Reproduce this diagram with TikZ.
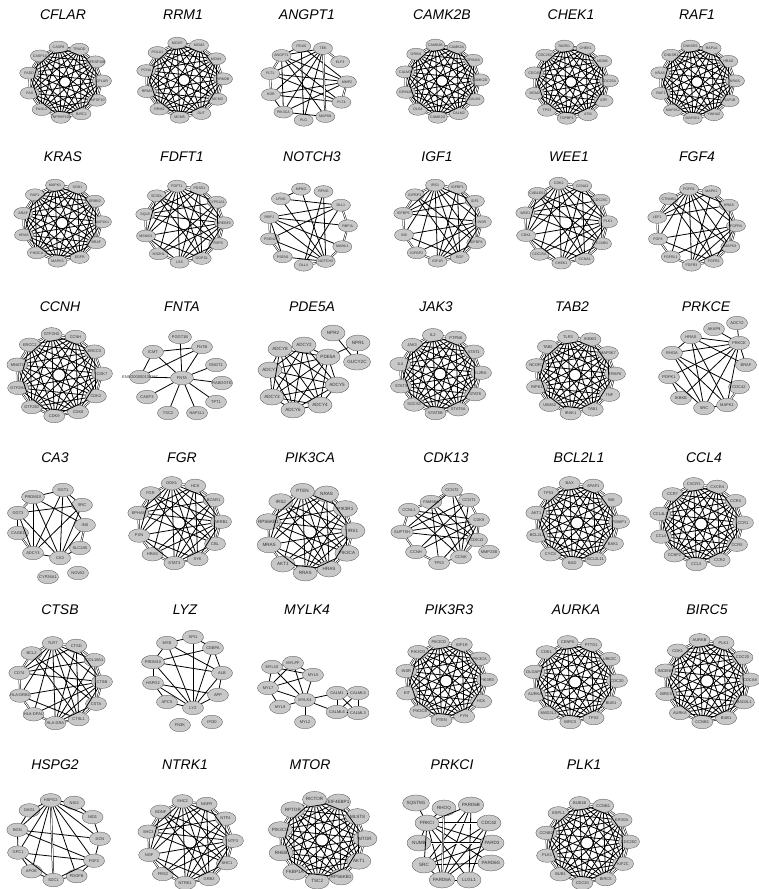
\documentclass[tikz,border=0pt]{standalone}
\usepackage{fontspec}
\setmainfont{Liberation Sans}
\usetikzlibrary{shapes.geometric}
\definecolor{grigio}{RGB}{200,200,200}

% rete circolare: #1 prefisso, #2 cx, #3 cy, #4 raggio, #5 densita (0-10), #6 stile nodi, #7 geni
\newcommand{\rete}[7]{%
  \foreach \g [count=\k] in {#7} {\xdef\nn{\k}}
  \foreach \g [count=\k] in {#7} {
    \pgfmathsetmacro\ang{-100+(\k-1)*360/\nn}
    \node[gene,#6] (#1\k) at ({#2+#4*cos(\ang)},{#3+0.96*#4*sin(\ang)}) {\makebox[0pt]{\g}};
  }
  \ifnum#5>0
  \foreach \i in {1,...,\nn} {
    \foreach \j in {\i,...,\nn} {
      \pgfmathtruncatemacro\tieni{mod(7*\i*\j+\i+3*\j,10)<#5 ? 1 : 0}
      \pgfmathtruncatemacro\vicino{((\j-\i)==1 || (\i==1 && \j==\nn)) ? 1 : 0}
      \ifnum\j>\i
        \ifnum\vicino=1
          \draw[doppio] (#1\i) -- (#1\j);
        \else\ifnum\tieni=1
          \draw[legame] (#1\i) -- (#1\j);
        \fi\fi
      \fi
    }
  }
  \fi
}

\begin{document}
\begin{tikzpicture}[
    x=1pt, y=-1pt,
    gene/.style={ellipse, draw=black!70, line width=0.3pt, fill=grigio, inner sep=0pt,
                 minimum width=19pt, minimum height=12pt, text=black!80,
                 font=\fontsize{3.6}{4}\selectfont},
    medio/.style={minimum width=21pt, minimum height=13.5pt, font=\fontsize{4}{4.5}\selectfont},
    grande/.style={minimum width=24pt, minimum height=16pt, font=\fontsize{4.6}{5}\selectfont},
    legame/.style={line width=0.8pt},
    doppio/.style={double, double distance=0.9pt, line width=0.5pt},
    titolo/.style={inner sep=0pt, font=\fontsize{14}{16}\selectfont\itshape}
]

    % 0. Cornice
    \fill[white] (0,0) rectangle (759,889);
    \useasboundingbox (0,0) rectangle (759,889);

    % 1. Titoli
    \node[titolo] (tcf) at (63,15)  {CFLAR};
    \node[titolo] (trr) at (183,15) {RRM1};
    \node[titolo] (tan) at (307,15) {ANGPT1};
    \node[titolo] (tca) at (442,15) {CAMK2B};
    \node[titolo] (tch) at (571,15) {CHEK1};
    \node[titolo] (trf) at (697,15) {RAF1};

    \node[titolo] (tkr) at (63,157)  {KRAS};
    \node[titolo] (tfd) at (182,157) {FDFT1};
    \node[titolo] (tno) at (312,157) {NOTCH3};
    \node[titolo] (tig) at (437,157) {IGF1};
    \node[titolo] (twe) at (569,157) {WEE1};
    \node[titolo] (tfg) at (697,157) {FGF4};

    \node[titolo] (tcn) at (60,307)  {CCNH};
    \node[titolo] (tfn) at (182,307) {FNTA};
    \node[titolo] (tpd) at (312,307) {PDE5A};
    \node[titolo] (tjk) at (436,307) {JAK3};
    \node[titolo] (ttb) at (572,307) {TAB2};
    \node[titolo] (tpe) at (706,307) {PRKCE};

    \node[titolo] (tc3) at (55,458)  {CA3};
    \node[titolo] (tfr) at (182,458) {FGR};
    \node[titolo] (tpk) at (310,458) {PIK3CA};
    \node[titolo] (tck) at (446,458) {CDK13};
    \node[titolo] (tbc) at (579,458) {BCL2L1};
    \node[titolo] (tcc) at (704,458) {CCL4};

    \node[titolo] (tct) at (60,610)  {CTSB};
    \node[titolo] (tly) at (185,610) {LYZ};
    \node[titolo] (tmy) at (307,610) {MYLK4};
    \node[titolo] (tp3) at (449,610) {PIK3R3};
    \node[titolo] (tau) at (576,610) {AURKA};
    \node[titolo] (tbi) at (707,610) {BIRC5};

    \node[titolo] (ths) at (55,765)  {HSPG2};
    \node[titolo] (tnt) at (185,765) {NTRK1};
    \node[titolo] (tmt) at (310,765) {MTOR};
    \node[titolo] (tpi) at (452,765) {PRKCI};
    \node[titolo] (tpl) at (584,765) {PLK1};

    % 2. Reti circolari
    \rete{cf}{65}{82}{37}{10}{}{CASP8,TRADD,TNFRSF10B,CFLAR,TNFSF10,BIRC2,TNFRSF10A,FASLG,FAS,FADD,CASP10}
    \rete{rr}{184}{80}{39}{10}{}{MCM7,MCM2,MCM4,RRM2B,MCM3,DUT,MCM5,RRM2,RRM1,PCNA,POLA1}
    \rete{an}{308}{83}{39}{0}{}{ITGA5,TEK,ELF3,MMP2,FLT4,MAPK8,PLG,PIK3CA,KDR,FLT1,ANGPT1}
    \rete{ca}{442}{81}{38}{10}{}{CAMK2B,CAMK2A,GRIN2A,CAMK2D,CALM1,CALM2,CAMK2G,DLG4,GRIN2B,CALM3,GRIN1}
    \rete{ch}{571}{82}{38}{10}{}{RAD51,CHEK1,MCM6,CDC25A,ATR,ATM,TOPBP1,TP53,MCM2,CDC45,CDC25C}
    \rete{rf}{697}{82}{38}{10}{}{CNKSR2,RAP1A,HRAS,NRAS,RAP1B,YWHAZ,MAP2K1,MAP2K2,RAF1,KRAS,CNKSR1}

    \rete{kr}{62}{223}{40}{10}{}{MAPK1,SOS1,ERBB2,MAP2K1,BRAF,EGFR,MAPK3,PIK3CA,KRAS,ARAF,RAF1}
    \rete{fd}{184}{224}{40}{6}{}{FDFT1,PDSS1,CYP51A1,SREBF2,FDPS,GGPS1,LSS,NSDHL,MSMO1,SQLE,SC5DL}
    \rete{no}{308}{227}{40}{0}{}{MFNG,RFNG,DLL1,RBPJL,MAML1,NOTCH3,DLL4,PSEN1,PSEN2,RBPJ,LFNG}
    \rete{ig}{442}{223}{40}{5}{}{IRS1,IGFBP1,IGF1,INSR,IGFBP4,EGF,IGF1R,IGFBP2,INS,IGFBP5,IGFBP3}
    \rete{we}{566}{223}{42}{6}{}{CDK2,CCNA2,CDC25C,PLK1,CCNB1,CCNA1,CHEK1,CDC25A,CDK1,WEE1,CABLES1}
    \rete{fg}{696}{227}{40}{4}{}{FGFR1,MAPK1,HRAS,FGFR4,MAPK3,FGFR2,FGFR3,FGFRL1,FGF4,LEF1,CTNNB1}

    \rete{cn}{59}{375}{43}{10}{medio}{GTF2H3,CCNH,ERCC3,CDK7,CDK2,CDK8,CDK9,GTF2E2,GTF2H4,MNAT1,ERCC2}
    \rete{jk}{440}{374}{41}{10}{medio}{IL2,PTPN6,STAT1,IL2RA,STAT6,STAT5A,STAT5B,SOCS3,STAT3,IL4,JAK3}
    \rete{tb}{575}{375}{40}{10}{medio}{TLR3,IKBKG,MAP3K7,TRAF6,TNF,TAB1,IRAK1,UBA52,RIPK1,NCOR1,TAB2}

    \rete{fr}{179}{523}{42}{6}{medio}{DOK1,HCK,BCAR1,ARRB1,CBL,SYK,STAT3,HRAS,PXN,EPHA8,FGR}
    \rete{pk}{310}{532}{43}{7}{grande}{PTEN,NRAS,PIK3R1,IRS1,PIK3CA,HRAS,RRAS,AKT1,MRAS,RPS6KB1,IRS2}
    \rete{bc}{577}{523}{42}{10}{medio}{BAX,APAF1,BIK,PMAIP1,BAK1,BCL2L11,BAD,CYCS,BCL2L1,AKT1,TP53}
    \rete{cc}{701}{524}{42}{10}{medio}{CXCR3,CXCR4,CCR3,CCR1,CCR5,CCR2,CCL3,CCBP2,CCL4,CCL4L1,CCR7}

    \rete{ct}{60}{683}{42}{5}{medio}{TLR7,CTSD,COL18A1,CTSB,CSTA,CTSL1,HLA-DRA,HLA-DPA1,HLA-DRB1,CD74,BCL2}
    \rete{p3}{446}{681}{41}{10}{medio}{PIK3CD,IGF1R,PIK3CA,PIK3R3,HCK,FYN,PTEN,PIK3CB,KIT,INSR,PIK3CG}
    \rete{au}{575}{682}{42}{10}{medio}{CENPA,PTTG1,UBE2C,CDC20,BUB1,TPX2,BIRC5,MAD2L1,AURKA,DLGAP5,CDK1}
    \rete{bi}{707}{681}{43}{10}{medio}{AURKB,PLK1,CDC20,CDCA8,MAD2L1,BUB1,CCNB1,AURKA,BIRC5,INCENP,CDK1}

    \rete{hs}{58}{840}{42}{0}{medio}{HSPG2,NID2,NID1,DCN,FGF2,PDGFB,SDC1,APOE,GPC1,BGN,DAG1}
    \rete{nt}{190}{842}{43}{6}{medio}{SHC2,NGFR,NTF4,NTF3,SHC1,GRB2,NTRK1,FRS2,NGF,SHC3,BDNF}
    \rete{mt}{322}{840}{43}{10}{grande}{RICTOR,EIF4EBP1,MLST8,MTOR,AKT1,RPS6KB1,TSC2,FKBP1A,RHEB,PIK3CG,RPTOR}
    \rete{pl}{587}{843}{42}{10}{medio}{BUB1B,CCNB1,KIF20A,CDC25C,KIF2C,BIRC5,CDC20,BUB1,PLK1,CCNB2,ESPL1}

    % 3. Legami delle reti rade
    % ANGPT1
    \foreach \i/\j in {11/1,11/2,11/4,11/5,11/6,11/8,2/7,2/8,2/9,2/10,1/4,1/7,4/9,4/10,4/8,5/9,5/10,8/9,6/8}
        \draw[legame] (an\i) -- (an\j);
    \foreach \i/\j in {2/3,2/6,9/10,4/5,10/11}
        \draw[doppio] (an\i) -- (an\j);
    % NOTCH3
    \foreach \i/\j in {10/3,10/4,10/5,10/6,10/8,1/6,2/6,2/7,11/3,11/6,9/6,9/3,8/6,3/7,1/11}
        \draw[legame] (no\i) -- (no\j);
    \foreach \i/\j in {3/4,4/5,5/6,6/7,8/9,9/10}
        \draw[doppio] (no\i) -- (no\j);
    % HSPG2
    \foreach \i/\j in {1/2,1/3,1/4,1/5,1/6,1/8,1/9,1/10,1/11,2/3,3/4,10/4,10/5,9/5,9/8,8/7,5/6,5/7,10/9,11/10,9/7,4/5,6/7}
        \draw[legame] (hs\i) -- (hs\j);
    \draw[doppio] (hs1) -- (hs7);

    % 4. FNTA (stella)
    \node[gene,medio,minimum width=23pt] (fn-FNTA) at (182,378) {FNTA};
    \node[gene,medio] (fn-PGGT1B)  at (180,337) {PGGT1B};
    \node[gene,medio] (fn-FNTB)    at (202,347) {FNTB};
    \node[gene,medio] (fn-GNGT1)   at (216,365) {GNGT1};
    \node[gene,medio] (fn-RABGGTB) at (222,383) {\makebox[0pt]{RABGGTB}};
    \node[gene,medio] (fn-TPT1)    at (216,402) {TPT1};
    \node[gene,medio] (fn-NAP1L1)  at (197,413) {NAP1L1};
    \node[gene,medio] (fn-TSC2)    at (168,413) {TSC2};
    \node[gene,medio] (fn-CASP3)   at (147,397) {CASP3};
    \node[gene,medio] (fn-ENSG)    at (140,377) {\makebox[0pt]{ENSG00000136167}};
    \node[gene,medio] (fn-ICMT)    at (153,352) {ICMT};
    \foreach \b in {PGGT1B,FNTB,GNGT1,RABGGTB,TPT1,NAP1L1,TSC2,CASP3,ENSG,ICMT}
        \draw[legame] (fn-FNTA) -- (fn-\b);
    \draw[legame] (fn-ICMT) -- (fn-FNTB);
    \draw[legame] (fn-ENSG) -- (fn-FNTB);
    \draw[legame] (fn-ENSG) -- (fn-ICMT);

    % 5. PDE5A
    \node[gene,grande] (pd-NPR2)   at (333,333) {NPR2};
    \node[gene,grande] (pd-NPR1)   at (358,343) {NPR1};
    \node[gene,grande] (pd-GUCY2C) at (357,362) {GUCY2C};
    \node[gene,grande] (pd-PDE5A)  at (328,357) {PDE5A};
    \node[gene,grande] (pd-ADCY2)  at (304,345) {ADCY2};
    \node[gene,grande] (pd-ADCY8)  at (280,349) {ADCY8};
    \node[gene,grande] (pd-ADCY7)  at (270,370) {ADCY7};
    \node[gene,grande] (pd-ADCY3)  at (272,397) {ADCY3};
    \node[gene,grande] (pd-ADCY6)  at (293,410) {ADCY6};
    \node[gene,grande] (pd-ADCY4)  at (320,405) {ADCY4};
    \node[gene,grande] (pd-ADCY5)  at (337,385) {ADCY5};
    \foreach \a [count=\i] in {ADCY2,ADCY8,ADCY7,ADCY3,ADCY6,ADCY4,ADCY5,PDE5A}
        \foreach \b [count=\j] in {ADCY2,ADCY8,ADCY7,ADCY3,ADCY6,ADCY4,ADCY5,PDE5A}
            {\ifnum\j>\i \draw[legame] (pd-\a) -- (pd-\b); \fi}
    \foreach \a/\b in {NPR2/GUCY2C,NPR1/PDE5A,NPR1/GUCY2C}
        \draw[legame] (pd-\a) -- (pd-\b);

    % 6. PRKCE
    \node[gene,medio] (pe-ADCY2) at (737,323) {ADCY2};
    \node[gene,medio] (pe-AKAP9) at (714,329) {AKAP9};
    \node[gene,medio] (pe-HRAS)  at (691,337) {HRAS};
    \node[gene,medio] (pe-PRKCE) at (739,343) {PRKCE};
    \node[gene,medio] (pe-RHOA)  at (672,353) {RHOA};
    \node[gene,medio] (pe-BRAF)  at (746,365) {BRAF};
    \node[gene,medio] (pe-PDPK1) at (669,377) {PDPK1};
    \node[gene,medio] (pe-CDC42) at (739,387) {CDC42};
    \node[gene,medio] (pe-IKBKB) at (681,398) {IKBKB};
    \node[gene,medio] (pe-SRC)   at (704,408) {SRC};
    \node[gene,medio] (pe-MAPK1) at (727,405) {MAPK1};
    \foreach \a/\b in {HRAS/PRKCE,HRAS/SRC,HRAS/MAPK1,HRAS/BRAF,HRAS/RHOA,RHOA/PRKCE,RHOA/SRC,RHOA/CDC42,
                       RHOA/MAPK1,PDPK1/PRKCE,PDPK1/SRC,IKBKB/PRKCE,SRC/PRKCE,MAPK1/PRKCE,BRAF/PRKCE,
                       AKAP9/PRKCE,ADCY2/PRKCE,SRC/MAPK1,PDPK1/IKBKB}
        \draw[legame] (pe-\a) -- (pe-\b);
    \draw[doppio] (pe-CDC42) -- (pe-MAPK1);

    % 7. CA3
    \node[gene,medio] (c3-GGT1)    at (63,490)  {GGT1};
    \node[gene,medio] (c3-PRDM10)  at (33,497)  {PRDM10};
    \node[gene,medio] (c3-SRC)     at (82,505)  {SRC};
    \node[gene,medio] (c3-GGT3)    at (18,513)  {GGT3};
    \node[gene,medio] (c3-INS)     at (85,525)  {INS};
    \node[gene,medio] (c3-CAGE1)   at (18,533)  {CAGE1};
    \node[gene,medio] (c3-SLC2A5)  at (80,548)  {SLC2A5};
    \node[gene,medio] (c3-ADCY3)   at (33,553)  {ADCY3};
    \node[gene,medio] (c3-CA3)     at (60,558)  {CA3};
    \node[gene,medio] (c3-NOVA2)   at (78,573)  {NOVA2};
    \node[gene,medio] (c3-CYP26A1) at (48,577)  {\makebox[0pt]{CYP26A1}};
    \foreach \a/\b in {GGT1/PRDM10,GGT1/SRC,GGT1/INS,GGT1/CA3,GGT1/ADCY3,PRDM10/ADCY3,PRDM10/CA3,PRDM10/INS,
                       GGT3/ADCY3,GGT3/SRC,GGT3/CA3,ADCY3/CA3,SRC/CA3,SRC/ADCY3,INS/CA3,CA3/SLC2A5}
        \draw[legame] (c3-\a) -- (c3-\b);
    \foreach \a/\b in {PRDM10/GGT3,GGT3/CAGE1,CAGE1/ADCY3,INS/SLC2A5}
        \draw[doppio] (c3-\a) -- (c3-\b);

    % 8. CDK13
    \node[gene,medio] (ck-FAM58A) at (431,502) {FAM58A};
    \node[gene,medio] (ck-CCNT2)  at (452,490) {CCNT2};
    \node[gene,medio] (ck-CCNT1)  at (469,500) {CCNT1};
    \node[gene,medio] (ck-CDK9)   at (479,520) {CDK9};
    \node[gene,medio] (ck-CDK13)  at (477,540) {CDK13};
    \node[gene,medio] (ck-MMP23B) at (489,552) {\makebox[0pt]{MMP23B}};
    \node[gene,medio] (ck-CCNK)   at (461,557) {CCNK};
    \node[gene,medio] (ck-TP53)   at (439,563) {TP53};
    \node[gene,medio] (ck-CCNH)   at (416,552) {CCNH};
    \node[gene,medio] (ck-SUPT5H) at (402,532) {SUPT5H};
    \node[gene,medio] (ck-CCNL1)  at (409,510) {CCNL1};
    \foreach \a/\b in {CCNK/TP53,CDK9/CCNK,CDK9/TP53,CDK9/CCNH,CDK9/SUPT5H,CDK9/CCNL1,CDK13/CCNL1,CDK13/FAM58A,
                       CDK13/SUPT5H,CDK13/CCNT2,CCNT1/SUPT5H,CCNT1/CCNK,CCNT2/SUPT5H,CCNT2/CCNK,CCNL1/CCNK,
                       FAM58A/TP53,CCNH/CCNT1,FAM58A/CCNK}
        \draw[legame] (ck-\a) -- (ck-\b);
    \foreach \a/\b in {FAM58A/CCNT2,CCNT2/CCNT1,CCNT1/CDK9,CDK9/CDK13,CCNL1/FAM58A,SUPT5H/CCNL1,SUPT5H/CCNH,
                       CCNH/TP53,CCNK/CDK13}
        \draw[doppio] (ck-\a) -- (ck-\b);

    % 9. LYZ
    \node[gene,medio] (ly-SPI1)   at (193,637) {SPI1};
    \node[gene,medio] (ly-MYB)    at (167,643) {MYB};
    \node[gene,medio] (ly-CEBPA)  at (213,648) {CEBPA};
    \node[gene,medio] (ly-PRDM10) at (153,662) {PRDM10};
    \node[gene,medio] (ly-ALB)    at (222,673) {ALB};
    \node[gene,medio] (ly-HSPG2)  at (153,683) {HSPG2};
    \node[gene,medio] (ly-APP)    at (218,695) {APP};
    \node[gene,medio] (ly-APCS)   at (167,702) {APCS};
    \node[gene,medio] (ly-LYZ)    at (193,708) {LYZ};
    \node[gene,medio] (ly-FN3K)   at (180,725) {FN3K};
    \node[gene,medio] (ly-IFI30)  at (212,722) {IFI30};
    \foreach \a/\b in {LYZ/SPI1,LYZ/MYB,LYZ/PRDM10,LYZ/HSPG2,LYZ/APCS,LYZ/APP,LYZ/ALB,LYZ/CEBPA,SPI1/MYB,
                       SPI1/CEBPA,MYB/PRDM10,MYB/ALB,CEBPA/ALB,CEBPA/PRDM10,PRDM10/ALB,PRDM10/HSPG2,
                       HSPG2/APP,HSPG2/APCS,ALB/APP}
        \draw[legame] (ly-\a) -- (ly-\b);

    % 10. MYLK4
    \node[gene,medio] (my-MYLPF)  at (293,663) {MYLPF};
    \node[gene,medio] (my-MYL10)  at (272,667) {MYL10};
    \node[gene,medio] (my-MYL5)   at (313,675) {MYL5};
    \node[gene,medio] (my-MYL7)   at (268,688) {MYL7};
    \node[gene,medio] (my-MYLK4)  at (305,700) {MYLK4};
    \node[gene,medio] (my-CALM1)  at (337,693) {CALM1};
    \node[gene,medio] (my-CALML5) at (358,693) {CALML5};
    \node[gene,medio] (my-MYL9)   at (280,707) {MYL9};
    \node[gene,medio] (my-CALML6) at (337,712) {CALML6};
    \node[gene,medio] (my-CALML3) at (358,713) {CALML3};
    \node[gene,medio] (my-MYL2)   at (305,722) {MYL2};
    \foreach \a/\b in {MYLK4/MYL10,MYLK4/MYLPF,MYLK4/MYL5,MYLK4/MYL7,MYLK4/MYL9,MYLK4/MYL2,MYLK4/CALM1,
                       MYLK4/CALML6,MYL10/MYLPF,MYL10/MYL7,MYL10/MYL5,MYLPF/MYL5,MYLPF/MYL7,MYL7/MYL9,
                       MYL7/MYL5,CALM1/CALML5,CALM1/CALML6,CALM1/CALML3,CALML5/CALML3,CALML6/CALML3,
                       CALML5/CALML6}
        \draw[legame] (my-\a) -- (my-\b);

    % 11. PRKCI
    \node[gene,grande] (pi-SQSTM1) at (416,803) {SQSTM1};
    \node[gene,grande] (pi-RHOQ)   at (444,808) {RHOQ};
    \node[gene,grande] (pi-PARD6B) at (471,805) {PARD6B};
    \node[gene,grande] (pi-PRKCI)  at (427,823) {PRKCI};
    \node[gene,grande] (pi-CDC42)  at (489,823) {CDC42};
    \node[gene,grande] (pi-NUMB)   at (419,843) {NUMB};
    \node[gene,grande] (pi-PARD3)  at (492,843) {PARD3};
    \node[gene,grande] (pi-SRC)    at (424,865) {SRC};
    \node[gene,grande] (pi-PARD6G) at (491,863) {PARD6G};
    \node[gene,grande] (pi-PARD6A) at (442,880) {PARD6A};
    \node[gene,grande] (pi-LLGL1)  at (469,880) {LLGL1};
    \foreach \a/\b in {PRKCI/SQSTM1,PRKCI/RHOQ,PRKCI/PARD6B,PRKCI/NUMB,PRKCI/PARD3,PRKCI/SRC,PRKCI/PARD6A,
                       PRKCI/LLGL1,PRKCI/PARD6G,PARD6B/PARD6A,PARD6B/SRC,CDC42/PARD6A,CDC42/SRC,PARD3/PARD6A,
                       PARD3/SRC,LLGL1/PARD6B,LLGL1/CDC42,PARD6G/SRC,SRC/PARD6A,PARD6A/LLGL1}
        \draw[legame] (pi-\a) -- (pi-\b);
    \foreach \a/\b in {PRKCI/CDC42,NUMB/PARD3,RHOQ/PARD6A}
        \draw[doppio] (pi-\a) -- (pi-\b);

\end{tikzpicture}
\end{document}
